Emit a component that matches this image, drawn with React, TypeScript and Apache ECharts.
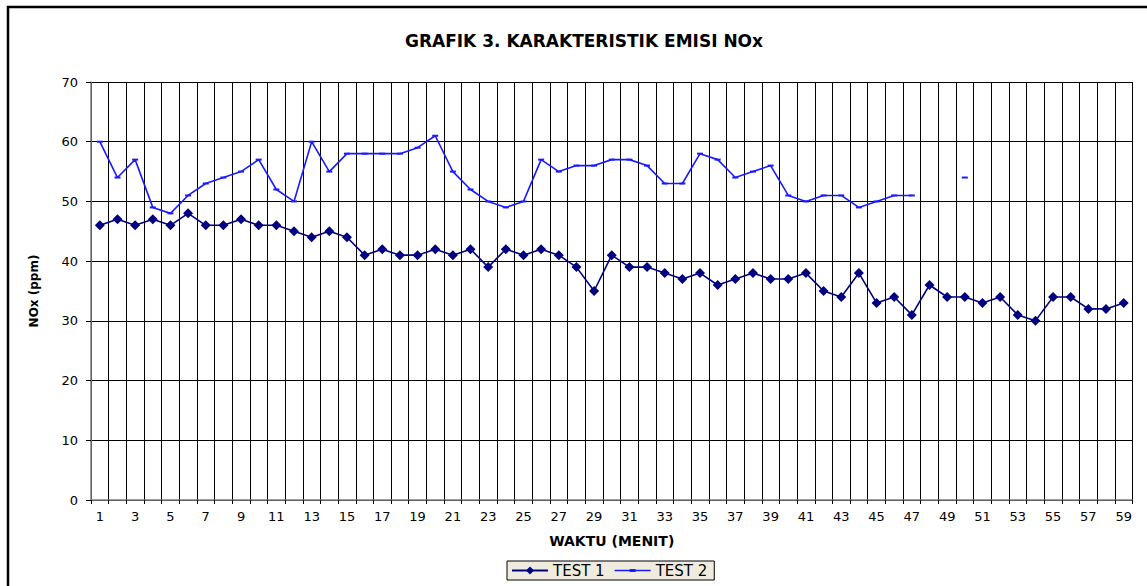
import React, { useEffect, useRef } from "react";
import * as echarts from "echarts";

const categories: string[] = Array.from({ length: 59 }, (_, i) => String(i + 1));

const test1: (number | null)[] = [
  46, 47, 46, 47, 46, 48, 46, 46, 47, 46,
  46, 45, 44, 45, 44, 41, 42, 41, 41, 42,
  41, 42, 39, 42, 41, 42, 41, 39, 35, 41,
  39, 39, 38, 37, 38, 36, 37, 38, 37, 37,
  38, 35, 34, 38, 33, 34, 31, 36, 34, 34,
  33, 34, 31, 30, 34, 34, 32, 32, 33,
];

const test2: (number | null)[] = [
  60, 54, 57, 49, 48, 51, 53, 54, 55, 57,
  52, 50, 60, 55, 58, 58, 58, 58, 59, 61,
  55, 52, 50, 49, 50, 57, 55, 56, 56, 57,
  57, 56, 53, 53, 58, 57, 54, 55, 56, 51,
  50, 51, 51, 49, 50, 51, 51, null, null, 54,
  null, null, null, null, null, null, null, null, null,
];

const yTicks = { min: 0, max: 70, interval: 10 };

const FONT = "'DejaVu Sans', 'Liberation Sans', Arial, sans-serif";

const TEST2_ICON =
  "path://M0,0L0.01,0L0,0.01Z M36,10L35.99,10L36,9.99Z M0,4.2L36,4.2L36,5.8L0,5.8Z M15,3.6L21,3.6L21,6.4L15,6.4Z";

export default function App() {
  const ref = useRef<HTMLDivElement>(null);
  useEffect(() => {
    if (!ref.current) return;
    const chart = echarts.init(ref.current, undefined, { renderer: "svg" });
    chart.setOption({
      animation: false,
      backgroundColor: "#ffffff",
      textStyle: { fontFamily: FONT },
      title: {
        text: "GRAFIK 3. KARAKTERISTIK EMISI NOx",
        left: 579,
        textAlign: "center",
        top: 27,
        textStyle: { fontFamily: FONT, fontSize: 17, fontWeight: "bold", color: "#000" },
      },
      graphic: [
        {
          type: "rect",
          shape: { x: 8, y: 7, width: 1160, height: 600 },
          style: { fill: "none", stroke: "#000", lineWidth: 2.5 },
          silent: true,
        },
      ],
      legend: {
        left: 507,
        top: 561,
        itemWidth: 36,
        itemHeight: 10,
        itemGap: 10,
        padding: [2, 7, 2, 4],
        backgroundColor: "#EFEBDE",
        borderColor: "#000",
        borderWidth: 1,
        textStyle: { fontFamily: FONT, fontSize: 15, color: "#000" },
        data: [
          { name: "TEST 1" },
          { name: "TEST 2", icon: TEST2_ICON, itemStyle: { color: "#1a1aff" } },
        ],
      },
      grid: { left: 91, right: 14.5, top: 82, bottom: 86 },
      xAxis: {
        type: "category",
        data: categories,
        boundaryGap: true,
        name: "WAKTU (MENIT)",
        nameLocation: "middle",
        nameGap: 34,
        nameTextStyle: { fontFamily: FONT, fontSize: 14, fontWeight: "bold", color: "#000" },
        axisLine: { lineStyle: { color: "#808080", width: 1.5 } },
        axisTick: { show: true, interval: 0, length: 4, lineStyle: { color: "#000" } },
        axisLabel: { interval: 1, fontFamily: FONT, fontSize: 13, color: "#000", margin: 10 },
        splitLine: { show: true, interval: 0, lineStyle: { color: "#000", width: 1 } },
      },
      yAxis: {
        type: "value",
        min: yTicks.min,
        max: yTicks.max,
        interval: yTicks.interval,
        name: "NOx (ppm)",
        nameLocation: "middle",
        nameGap: 51,
        nameTextStyle: { fontFamily: FONT, fontSize: 12, fontWeight: "bold", color: "#000" },
        axisLine: { show: true, lineStyle: { color: "#808080", width: 1.5 } },
        axisTick: { show: true, length: 5, lineStyle: { color: "#000" } },
        axisLabel: { fontFamily: FONT, fontSize: 13, color: "#000", margin: 13 },
        splitLine: { show: true, lineStyle: { color: "#000", width: 1 } },
      },
      series: [
        {
          name: "TEST 1",
          type: "line",
          data: test1,
          symbol: "diamond",
          symbolSize: 10,
          showAllSymbol: true,
          itemStyle: { color: "#000080" },
          lineStyle: { color: "#000080", width: 1.6 },
        },
        {
          name: "TEST 2",
          type: "line",
          data: test2,
          connectNulls: false,
          symbol: "rect",
          symbolSize: [6, 2],
          showAllSymbol: true,
          itemStyle: { color: "#1a1aff" },
          lineStyle: { color: "#1a1aff", width: 1.6 },
        },
      ],
    });
    return () => chart.dispose();
  }, []);
  return (
    <div
      ref={ref}
      style={{ position: "fixed", left: 0, top: 0, width: 1147, height: 586 }}
    />
  );
}
